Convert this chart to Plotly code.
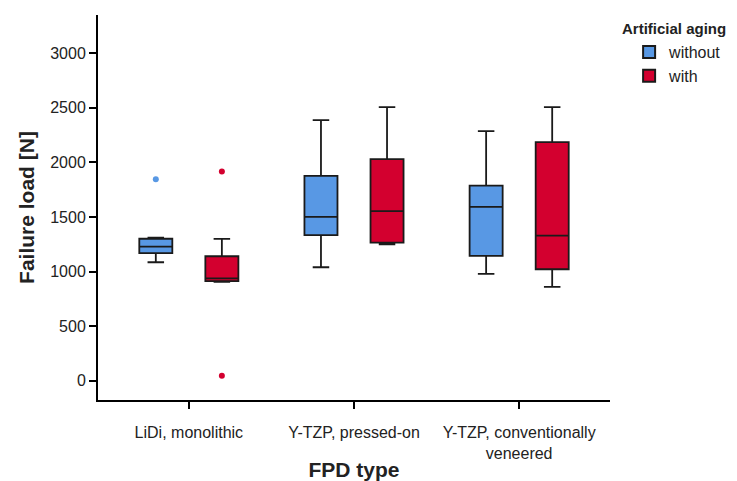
import plotly.graph_objects as go

categories = ["LiDi, monolithic", "Y-TZP, pressed-on", "Y-TZP, conventionally<br>veneered"]
cat_pos = [0, 1, 2]

# without artificial aging
wo_lower = [1085, 1039, 978]
wo_q1 = [1168, 1333, 1143]
wo_median = [1228, 1500, 1592]
wo_q3 = [1300, 1876, 1787]
wo_upper = [1310, 2387, 2286]
wo_outlier_cat = [0]
wo_outlier_val = [1846]

# with artificial aging
w_lower = [905, 1250, 859]
w_q1 = [912, 1265, 1021]
w_median = [938, 1553, 1329]
w_q3 = [1140, 2029, 2185]
w_upper = [1299, 2506, 2506]
w_outlier_cat = [0, 0]
w_outlier_val = [1916, 46]

blue = "#5898e4"
red = "#d3002f"
offset = 0.2

fig = go.Figure()
fig.add_trace(go.Box(
    name="without", x=cat_pos, q1=wo_q1, median=wo_median, q3=wo_q3,
    lowerfence=wo_lower, upperfence=wo_upper, fillcolor=blue,
    line=dict(color="#1a1a1a", width=1.8), boxpoints=False, whiskerwidth=0.5,
    offsetgroup="a"))
fig.add_trace(go.Box(
    name="with", x=cat_pos, q1=w_q1, median=w_median, q3=w_q3,
    lowerfence=w_lower, upperfence=w_upper, fillcolor=red,
    line=dict(color="#1a1a1a", width=1.8), boxpoints=False, whiskerwidth=0.5,
    offsetgroup="b"))
fig.add_trace(go.Scatter(
    x=[c - offset for c in wo_outlier_cat], y=wo_outlier_val, mode="markers",
    marker=dict(color=blue, size=6), showlegend=False))
fig.add_trace(go.Scatter(
    x=[c + offset for c in w_outlier_cat], y=w_outlier_val, mode="markers",
    marker=dict(color=red, size=6), showlegend=False))

fig.update_layout(
    width=729, height=473,
    margin=dict(l=90, r=127, t=7, b=81, autoexpand=False),
    paper_bgcolor="white", plot_bgcolor="white",
    boxmode="group", boxgap=0.2, boxgroupgap=0.5,
    font=dict(family="Liberation Sans, Arial", color="#222", size=16),
    legend=dict(
        xref="container", yref="container",
        x=0.852, y=0.9426, xanchor="left", yanchor="top",
        font=dict(size=16, color="#222"), tracegroupgap=0, itemsizing="constant"),
    annotations=[dict(
        text="<b>Artificial aging</b>", xref="paper", yref="paper",
        x=1.0195, y=0.966, xanchor="left", yanchor="middle", showarrow=False,
        font=dict(size=15, color="#222"))],
    xaxis=dict(
        range=[-0.55, 2.55], tickvals=cat_pos, ticktext=categories,
        showline=True, linecolor="black", linewidth=2, ticks="outside",
        ticklen=7, tickwidth=2, tickcolor="black", showgrid=False, zeroline=False,
        tickfont=dict(size=16), automargin=False, ticklabelstandoff=10,
        title=dict(text="<b>FPD type</b>", font=dict(size=21, color="#222"), standoff=9)),
    yaxis=dict(
        range=[-177, 3350], tickvals=[0, 500, 1000, 1500, 2000, 2500, 3000],
        showline=True, linecolor="black", linewidth=2, ticks="outside",
        ticklen=7, tickwidth=2, tickcolor="black", showgrid=False, zeroline=False,
        tickfont=dict(size=16), automargin=False,
        title=dict(text="<b>Failure load [N]</b>", font=dict(size=21, color="#222"), standoff=10)),
)

fig.write_html("out.html")
